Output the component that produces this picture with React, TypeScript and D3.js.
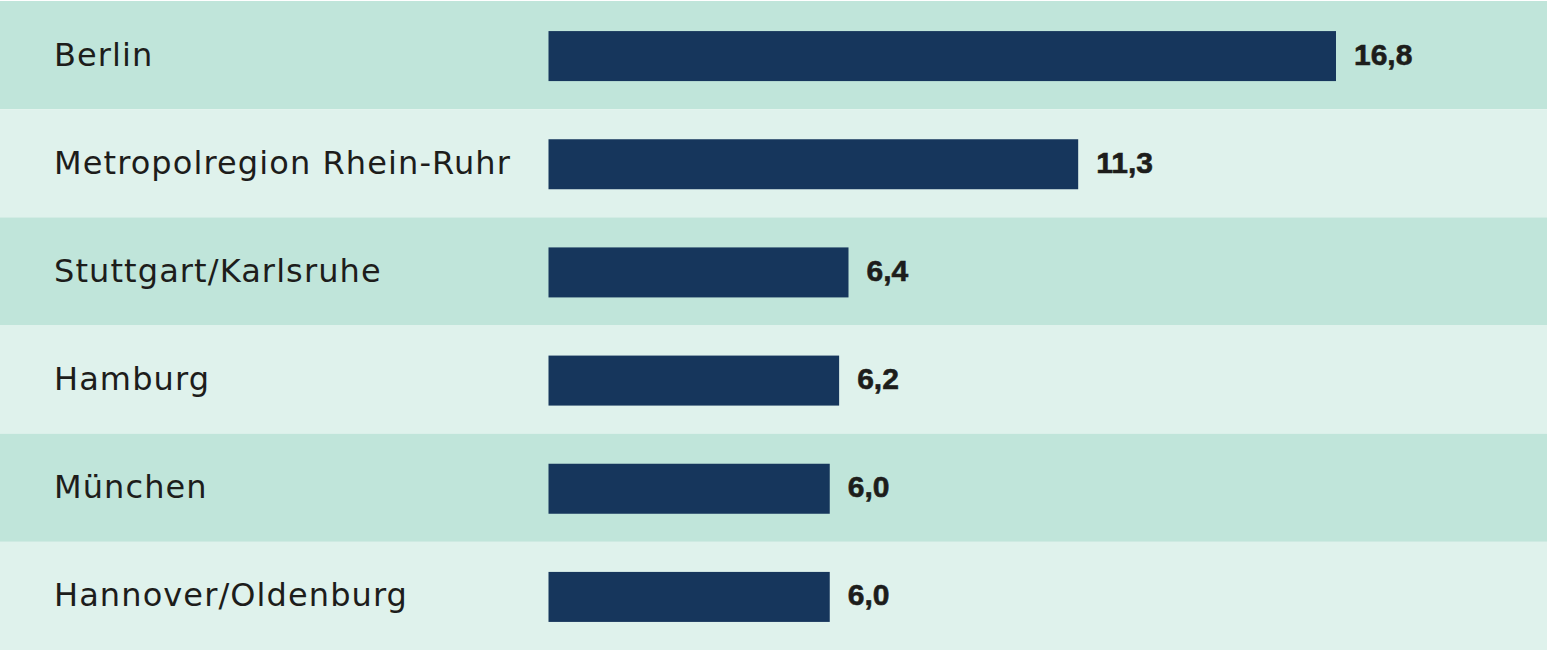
import React from "react";
import * as d3 from "d3";

const categories = [
  "Berlin",
  "Metropolregion Rhein-Ruhr",
  "Stuttgart/Karlsruhe",
  "Hamburg",
  "München",
  "Hannover/Oldenburg",
];
const values = [16.8, 11.3, 6.4, 6.2, 6.0, 6.0];
const valueLabels = ["16,8", "11,3", "6,4", "6,2", "6,0", "6,0"];

const W = 1547;
const H = 650;

export default function App() {
  const y = d3.scaleBand<string>().domain(categories).range([1, H]).paddingInner(0).paddingOuter(0);
  const x = d3.scaleLinear().domain([0, 16.8]).range([548.5, 1336]);
  const barH = 50;
  const rowColors = ["#c0e5da", "#dff2ec"];

  return (
    <div style={{ position: "fixed", left: 0, top: 0 }}>
      <svg width={W} height={H} style={{ display: "block", background: "#ffffff" }}>
        {categories.map((c, i) => {
          const y0 = y(c) as number;
          const bw = y.bandwidth();
          const cy = y0 + bw / 2;
          return (
            <g key={c}>
              <rect x={0} y={y0} width={W} height={bw} fill={rowColors[i % 2]} />
              <rect
                x={x(0)}
                y={cy + 1 - barH / 2}
                width={x(values[i]) - x(0)}
                height={barH}
                fill="#16365c"
              />
              <text
                x={54}
                y={cy - 1}
                dy="0.36em"
                fontFamily="'DejaVu Sans', sans-serif"
                fontSize={32}
                letterSpacing={1.1}
                fill="#1d1d1b"
              >
                {c}
              </text>
              <text
                x={x(values[i]) + 18}
                y={cy - 1}
                dy="0.35em"
                fontFamily="'Liberation Sans', Arial, sans-serif"
                fontWeight="bold"
                fontSize={30}
                fill="#1d1d1b"
                stroke="#1d1d1b"
                strokeWidth={0.6}
              >
                {valueLabels[i]}
              </text>
            </g>
          );
        })}
      </svg>
    </div>
  );
}
